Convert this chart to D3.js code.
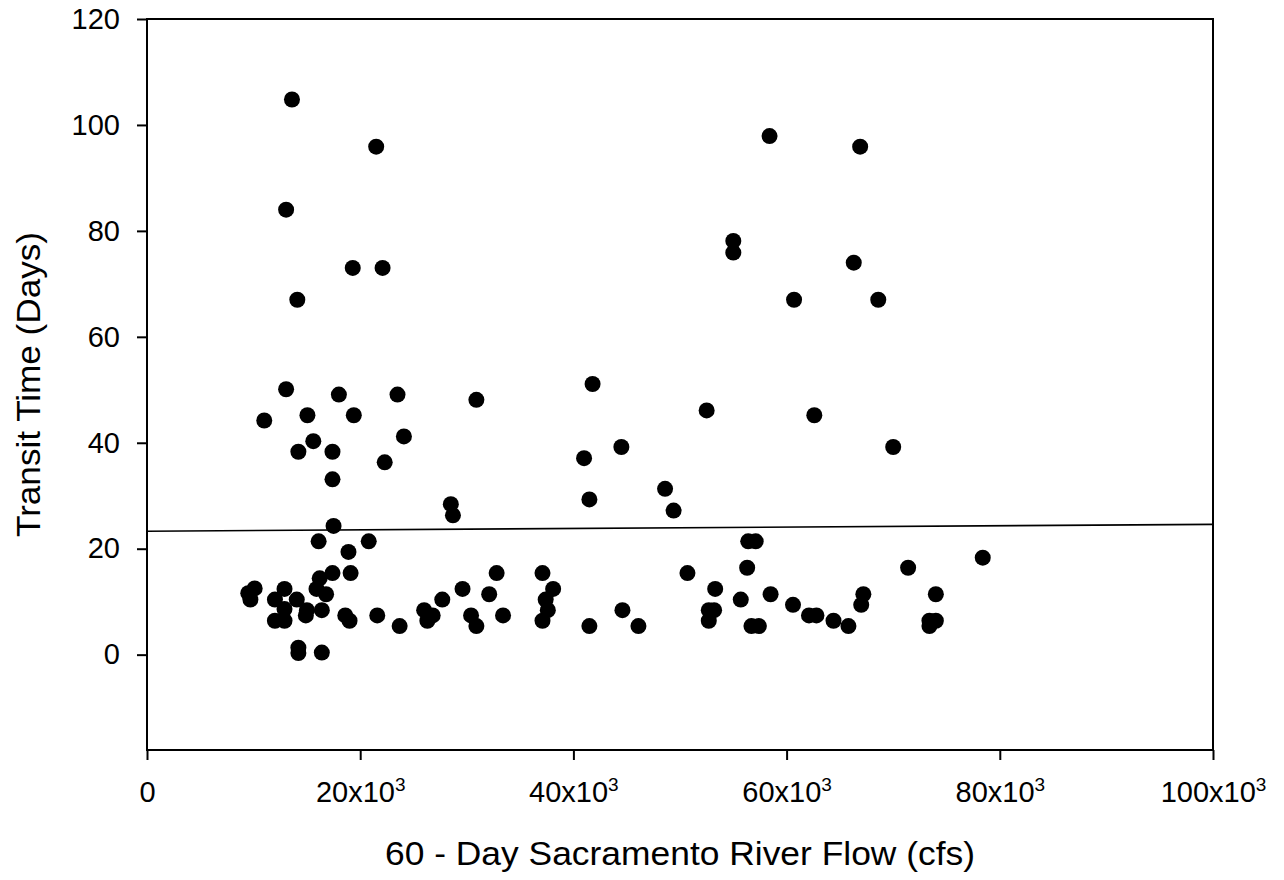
<!DOCTYPE html>
<html>
<head>
<meta charset="utf-8">
<script src="https://cdn.jsdelivr.net/npm/d3@7"></script>
<style>
  body { margin: 0; background: #fff; }
  text { font-family: Arial, "Liberation Sans", sans-serif; fill: #000; }
</style>
</head>
<body>
<div id="chart"></div>
<script>
// flow in thousand cfs, transit time in days
const flowK = [
  13.6, 21.5, 13.05, 58.4, 66.9, 55.0, 55.0, 66.3, 60.7, 68.6,
  19.3, 22.1, 14.1, 13.05, 18.0, 23.5, 30.9, 11.0, 15.05, 19.4,
  15.6, 24.1, 14.2, 17.4, 22.3, 17.4, 28.5, 28.7, 17.5, 16.1,
  20.8, 18.9, 17.4, 19.1, 16.2, 32.8, 37.1, 10.1, 9.5, 9.7,
  12.9, 12.0, 14.05, 15.9, 16.8, 12.9, 15.0, 16.4, 12.0, 12.9,
  14.9, 18.6, 19.0, 21.6, 23.7, 26.0, 26.8, 26.3, 27.7, 29.6,
  32.1, 30.4, 30.9, 33.4, 38.1, 37.4, 37.6, 37.1, 14.2, 14.2,
  16.4, 41.8, 52.5, 62.6, 70.0, 41.0, 44.5, 41.5, 48.6, 49.4,
  56.4, 57.1, 56.3, 71.4, 50.7, 53.3, 55.7, 58.5, 60.6, 67.2,
  67.0, 74.0, 41.5, 44.6, 46.1, 52.7, 53.2, 52.7, 56.7, 57.4,
  62.1, 62.8, 64.4, 65.8, 73.4, 74.0, 73.4, 78.4
];
const transitDays = [
  104.8, 95.9, 84.0, 97.9, 95.9, 78.1, 75.9, 74.0, 67.0, 67.0,
  73.0, 73.0, 67.0, 50.1, 49.1, 49.1, 48.1, 44.2, 45.2, 45.2,
  40.3, 41.2, 38.3, 38.3, 36.3, 33.1, 28.4, 26.3, 24.3, 21.4,
  21.4, 19.4, 15.4, 15.4, 14.4, 15.4, 15.4, 12.5, 11.6, 10.4,
  12.4, 10.4, 10.4, 12.4, 11.4, 8.6, 8.4, 8.4, 6.4, 6.4,
  7.4, 7.4, 6.4, 7.4, 5.4, 8.4, 7.4, 6.4, 10.4, 12.4,
  11.4, 7.4, 5.4, 7.4, 12.4, 10.4, 8.4, 6.4, 1.3, 0.3,
  0.4, 51.1, 46.1, 45.2, 39.2, 37.1, 39.2, 29.3, 31.3, 27.2,
  21.4, 21.4, 16.4, 16.4, 15.4, 12.4, 10.4, 11.4, 9.4, 11.4,
  9.4, 11.4, 5.4, 8.4, 5.4, 8.4, 8.4, 6.4, 5.4, 5.4,
  7.4, 7.4, 6.4, 5.4, 6.4, 6.4, 5.4, 18.3
];

// fitted line end points (flow cfs, days)
const fitFlow = [0, 100000];
const fitDays = [23.3, 24.6];

const xTicks = [0, 20000, 40000, 60000, 80000, 100000];
const yTicks = [0, 20, 40, 60, 80, 100, 120];

const xTitle = "60 - Day Sacramento River Flow (cfs)";
const yTitle = "Transit Time (Days)";

const W = 1284, H = 880;
const margin = { top: 19, right: 71, bottom: 130, left: 147 };

const svg = d3.select("#chart").append("svg")
    .attr("width", W)
    .attr("height", H);

const x = d3.scaleLinear()
    .domain([0, 100000])
    .range([margin.left, W - margin.right]);

const y = d3.scaleLinear()
    .domain([-18, 120])
    .range([H - margin.bottom, margin.top]);

// x axis
const xAxis = svg.append("g")
    .attr("transform", `translate(0,${H - margin.bottom})`)
    .call(d3.axisBottom(x).tickValues(xTicks).tickSize(10).tickSizeOuter(0).tickFormat(""));
xAxis.select(".domain").remove();
xAxis.selectAll(".tick line").attr("stroke", "#000").attr("stroke-width", 2);
xAxis.selectAll(".tick text").each(function (d) {
    const t = d3.select(this)
        .attr("font-size", 29)
        .attr("dy", 0)
        .attr("y", 52);
    if (d === 0) {
        t.text("0");
    } else {
        t.append("tspan").text(`${d / 1000}x10`);
        t.append("tspan").text("3").attr("font-size", 19).attr("dy", -11);
    }
});

// y axis
const yAxis = svg.append("g")
    .attr("transform", `translate(${margin.left},0)`)
    .call(d3.axisLeft(y).tickValues(yTicks).tickSize(10).tickSizeOuter(0).tickPadding(17));
yAxis.select(".domain").remove();
yAxis.selectAll(".tick line").attr("stroke", "#000").attr("stroke-width", 2);
yAxis.selectAll(".tick text").attr("font-size", 29);

// frame
svg.append("rect")
    .attr("x", x(0))
    .attr("y", y(120))
    .attr("width", x(100000) - x(0))
    .attr("height", y(-18) - y(120))
    .attr("fill", "none")
    .attr("stroke", "#000")
    .attr("stroke-width", 2);

// fitted line
const line = d3.line()
    .x((d, i) => x(d))
    .y((d, i) => y(fitDays[i]));

svg.append("path")
    .datum(fitFlow)
    .attr("fill", "none")
    .attr("stroke", "#000")
    .attr("stroke-width", 1.6)
    .attr("d", line);

// points
svg.selectAll(".dot")
    .data(flowK)
    .enter()
    .append("circle")
    .attr("class", "dot")
    .attr("cx", d => x(d * 1000))
    .attr("cy", (d, i) => y(transitDays[i]))
    .attr("r", 8)
    .attr("fill", "#000");

// axis titles
svg.append("text")
    .attr("x", (x(0) + x(100000)) / 2)
    .attr("y", 865)
    .attr("text-anchor", "middle")
    .attr("font-size", 33)
    .attr("textLength", 590)
    .attr("lengthAdjust", "spacingAndGlyphs")
    .text(xTitle);

svg.append("text")
    .attr("transform", `translate(40,${(y(120) + y(-18)) / 2}) rotate(-90)`)
    .attr("text-anchor", "middle")
    .attr("font-size", 33)
    .attr("textLength", 305)
    .attr("lengthAdjust", "spacingAndGlyphs")
    .text(yTitle);
</script>
</body>
</html>
